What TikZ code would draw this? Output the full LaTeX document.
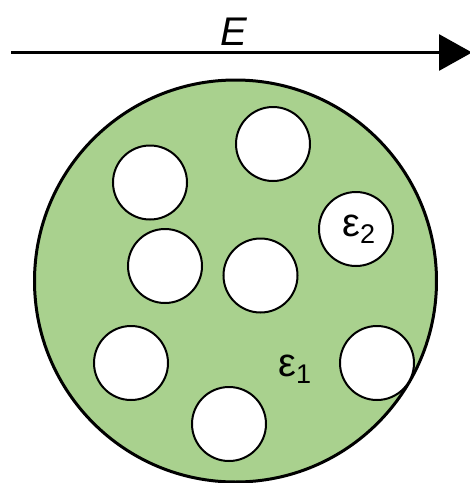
\documentclass[tikz,border=0pt]{standalone}
\usepackage{fontspec}
\setmainfont{Liberation Sans}
\usetikzlibrary{arrows.meta}
\definecolor{matgreen}{HTML}{A9D18E}
\tikzset{
  incl/.style={circle, draw=black, fill=white, line width=2pt, minimum size=74pt, inner sep=0pt},
  host/.style={circle, draw=black, fill=matgreen, line width=3pt, minimum size=402pt, inner sep=0pt},
  lbl/.style={inner sep=0pt, font=\fontsize{40}{40}\selectfont},
}
\newcommand{\subsc}[1]{\raisebox{-7pt}{\fontsize{27}{27}\selectfont #1}}
\begin{document}
\begin{tikzpicture}[x=1pt, y=-1pt]
\useasboundingbox (0,0) rectangle (470,483);
% field arrow
\coordinate (a0) at (11,52.5);
\coordinate (a1) at (472,52.5);
\draw[line width=3pt, -{Triangle[length=33pt,width=36pt]}] (a0) -- (a1);
\node[inner sep=0pt, anchor=base, font=\fontsize{40}{40}\selectfont\itshape] (E) at (234,45) {E};
% host medium
\node[host] (host) at (235.5,281) {};
% inclusions
\node[incl] (c1) at (273,144) {};
\node[incl] (c2) at (150,182.5) {};
\node[incl] (c3) at (165,266) {};
\node[incl] (c4) at (260.5,275.5) {};
\node[incl] (c5) at (131,363) {};
\node[incl] (c6) at (229,424) {};
\node[incl] (c7) at (356,229) {};
\node[incl] (c8) at (377,363) {};
% labels
\node[lbl, anchor=base west] (eps1) at (278,376) {ε\subsc{1}};
\node[lbl, anchor=base west] (eps2) at (342,236) {ε\subsc{2}};
\end{tikzpicture}
\end{document}
